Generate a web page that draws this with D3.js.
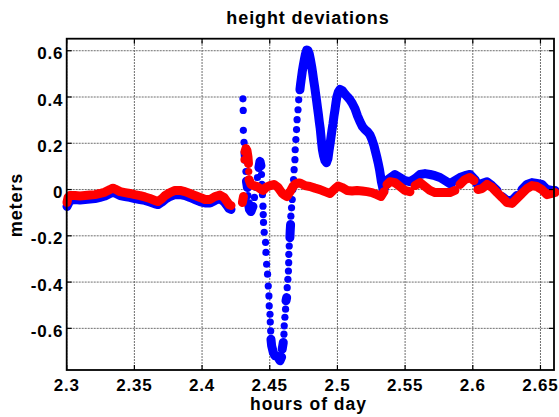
<!DOCTYPE html>
<html lang="en">
<head>
  <meta charset="UTF-8">
  <title>height deviations</title>
  <script src="https://cdn.jsdelivr.net/npm/d3@7"></script>
  <style>
    body { margin: 0; background: #fff; }
    text { font-family: "Liberation Sans", Arial, sans-serif; font-weight: bold; fill: #000; }
  </style>
</head>
<body>
<div id="chart"></div>
<script>
  // tick values
  const xTicks = [2.3, 2.35, 2.4, 2.45, 2.5, 2.55, 2.6, 2.65];
  const yTicks = [-0.6, -0.4, -0.2, 0, 0.2, 0.4, 0.6];

  // blue series: [hours, meters]
  const blueSeries = [
    [2.3002,-0.073],[2.3024,-0.047],[2.3061,-0.043],[2.3098,-0.045],[2.3135,-0.043],[2.3172,-0.041],
    [2.3209,-0.039],[2.3246,-0.034],[2.3283,-0.028],[2.3320,-0.017],[2.3342,-0.013],[2.3357,-0.015],
    [2.3394,-0.026],[2.3431,-0.030],[2.3467,-0.034],[2.3504,-0.039],[2.3541,-0.043],[2.3578,-0.047],
    [2.3615,-0.054],[2.3652,-0.062],[2.3674,-0.065],[2.3704,-0.054],[2.3726,-0.043],[2.3763,-0.030],
    [2.3800,-0.022],[2.3837,-0.022],[2.3874,-0.026],[2.3911,-0.034],[2.3948,-0.043],[2.3985,-0.052],
    [2.4022,-0.058],[2.4059,-0.058],[2.4096,-0.047],[2.4132,-0.039],[2.4162,-0.052],[2.4184,-0.069],
    [2.4199,-0.082],[2.4214,-0.086],
    [2.4302,0.392],[2.4304,0.342],[2.4305,0.256],[2.4310,0.204],[2.4317,0.159],[2.4322,0.129],
    [2.4324,0.078],[2.4328,0.036],[2.4335,0.009],[2.4339,-0.026],[2.4343,-0.060],[2.4350,-0.086],
    [2.4361,-0.095],[2.4376,-0.073],[2.4387,-0.034],[2.4398,0.009],[2.4409,0.052],[2.4420,0.095],
    [2.4428,0.122],[2.4435,0.103],[2.4439,0.065],[2.4442,0.022],[2.4446,-0.022],[2.4450,-0.072],
    [2.4452,-0.108],[2.4454,-0.142],[2.4459,-0.185],[2.4469,-0.228],[2.4472,-0.272],[2.4477,-0.323],
    [2.4484,-0.366],[2.4489,-0.417],[2.4494,-0.460],[2.4496,-0.503],[2.4502,-0.539],[2.4504,-0.573],
    [2.4507,-0.611],[2.4509,-0.647],[2.4514,-0.675],[2.4526,-0.704],[2.4539,-0.719],[2.4555,-0.719],
    [2.4576,-0.740],[2.4588,-0.724],[2.4592,-0.690],[2.4600,-0.661],[2.4605,-0.625],[2.4607,-0.589],
    [2.4612,-0.552],[2.4617,-0.517],[2.4620,-0.481],[2.4625,-0.467],[2.4629,-0.424],[2.4634,-0.388],
    [2.4638,-0.352],[2.4640,-0.316],[2.4641,-0.280],[2.4644,-0.244],[2.4649,-0.208],[2.4651,-0.180],
    [2.4654,-0.151],[2.4656,-0.115],[2.4661,-0.079],[2.4666,-0.043],[2.4671,0.000],[2.4676,0.043],
    [2.4680,0.086],[2.4686,0.129],[2.4688,0.172],[2.4693,0.216],[2.4698,0.259],[2.4702,0.302],
    [2.4709,0.345],[2.4714,0.388],[2.4723,0.431],[2.4728,0.457],[2.4734,0.483],[2.4740,0.509],
    [2.4747,0.534],[2.4755,0.560],[2.4764,0.586],[2.4773,0.603],[2.4782,0.601],[2.4792,0.586],
    [2.4801,0.560],[2.4810,0.531],[2.4817,0.504],[2.4824,0.474],[2.4832,0.444],[2.4839,0.414],
    [2.4846,0.384],[2.4853,0.353],[2.4860,0.323],[2.4866,0.293],[2.4873,0.263],[2.4878,0.233],
    [2.4883,0.203],[2.4889,0.172],[2.4897,0.147],[2.4908,0.125],[2.4919,0.116],[2.4930,0.134],
    [2.4937,0.164],[2.4945,0.194],[2.4952,0.224],[2.4959,0.254],[2.4967,0.284],[2.4974,0.315],
    [2.4982,0.345],[2.4989,0.375],[2.4996,0.401],[2.5007,0.422],[2.5019,0.433],[2.5037,0.427],
    [2.5056,0.412],[2.5074,0.401],[2.5093,0.388],[2.5111,0.371],[2.5130,0.349],[2.5148,0.319],
    [2.5167,0.293],[2.5185,0.272],[2.5204,0.259],[2.5222,0.250],[2.5240,0.237],[2.5255,0.216],
    [2.5270,0.190],[2.5281,0.164],[2.5292,0.138],[2.5302,0.112],[2.5311,0.086],[2.5318,0.060],
    [2.5325,0.034],[2.5333,0.013],[2.5340,-0.009],[2.5351,0.017],[2.5373,0.043],[2.5403,0.056],
    [2.5425,0.065],[2.5462,0.052],[2.5499,0.039],[2.5536,0.034],[2.5573,0.047],[2.5610,0.065],
    [2.5647,0.069],[2.5684,0.065],[2.5721,0.060],[2.5758,0.052],[2.5794,0.039],[2.5831,0.026],
    [2.5868,0.039],[2.5905,0.052],[2.5942,0.060],[2.5979,0.065],[2.6016,0.043],[2.6038,0.017],
    [2.6068,0.026],[2.6105,0.034],[2.6142,0.017],[2.6179,-0.004],[2.6216,-0.030],[2.6253,-0.047],
    [2.6290,-0.047],[2.6326,-0.026],[2.6363,0.000],[2.6400,0.022],[2.6437,0.030],[2.6474,0.026],
    [2.6511,0.022],[2.6548,0.000],[2.6585,-0.004],[2.6607,-0.004]
  ];

  // red series: [hours, meters]
  const redSeries = [
    [2.3002,-0.056],[2.3010,-0.034],[2.3024,-0.026],[2.3061,-0.026],[2.3098,-0.028],[2.3135,-0.026],
    [2.3172,-0.024],[2.3209,-0.022],[2.3246,-0.017],[2.3283,-0.011],[2.3320,0.000],[2.3342,0.006],
    [2.3357,0.002],[2.3394,-0.009],[2.3431,-0.013],[2.3467,-0.017],[2.3504,-0.022],[2.3541,-0.026],
    [2.3578,-0.032],[2.3615,-0.039],[2.3652,-0.047],[2.3674,-0.052],[2.3704,-0.039],[2.3726,-0.026],
    [2.3763,-0.013],[2.3800,-0.004],[2.3837,-0.004],[2.3874,-0.009],[2.3911,-0.017],[2.3948,-0.026],
    [2.3985,-0.034],[2.4022,-0.043],[2.4059,-0.043],[2.4096,-0.030],[2.4132,-0.024],[2.4162,-0.034],
    [2.4184,-0.052],[2.4199,-0.065],[2.4214,-0.069],
    [2.4298,-0.056],[2.4306,-0.030],[2.4310,0.129],[2.4317,0.164],[2.4324,0.177],[2.4332,0.168],
    [2.4339,0.142],[2.4343,0.112],[2.4345,0.078],[2.4347,0.043],[2.4361,0.022],[2.4383,0.017],
    [2.4406,0.013],[2.4428,0.004],[2.4450,-0.004],[2.4472,0.009],[2.4502,0.017],[2.4531,0.022],
    [2.4561,0.009],[2.4590,-0.015],[2.4608,-0.024],[2.4627,-0.030],[2.4650,-0.010],[2.4671,0.013],
    [2.4690,0.024],[2.4709,0.028],
    [2.4723,0.028],[2.4760,0.017],[2.4797,0.013],[2.4834,0.006],[2.4871,0.000],[2.4908,-0.009],
    [2.4945,-0.017],[2.4982,0.004],[2.5004,0.015],[2.5034,0.009],[2.5071,-0.004],[2.5108,-0.006],
    [2.5145,-0.004],[2.5182,-0.006],[2.5219,-0.009],[2.5255,-0.013],[2.5292,-0.022],[2.5321,-0.030],
    [2.5344,-0.009],[2.5366,0.022],[2.5388,0.034],[2.5425,0.030],[2.5462,0.013],[2.5499,-0.004],
    [2.5536,-0.009],[2.5573,0.017],[2.5610,0.030],[2.5647,0.013],[2.5684,-0.004],[2.5721,-0.013],
    [2.5758,-0.013],[2.5794,-0.013],[2.5831,-0.013],[2.5868,-0.004],[2.5905,0.022],[2.5942,0.043],
    [2.5979,0.052],[2.6009,0.039],[2.6038,0.000],[2.6068,0.004],[2.6105,0.022],[2.6142,0.009],
    [2.6179,-0.013],[2.6216,-0.034],[2.6253,-0.056],[2.6290,-0.060],[2.6326,-0.039],[2.6363,-0.017],
    [2.6400,0.004],[2.6437,0.017],[2.6474,0.013],[2.6511,0.000],[2.6548,-0.022],[2.6585,-0.017],
    [2.6607,-0.013]
  ];

  const width = 559, height = 417;
  const margin = { top: 38.7, right: 5, bottom: 47, left: 66.7 };

  const svg = d3.select("#chart").append("svg")
    .attr("width", width)
    .attr("height", height);

  const x = d3.scaleLinear().domain([2.3, 2.66]).range([margin.left, width - margin.right]);
  const y = d3.scaleLinear().domain([-0.78, 0.652]).range([height - margin.bottom, margin.top]);

  const x0 = margin.left, x1 = width - margin.right;
  const y0 = height - margin.bottom, y1 = margin.top;

  // grid
  const grid = svg.append("g").attr("stroke", "#6e6e6e").attr("stroke-width", 1).attr("stroke-dasharray", "2,1");
  xTicks.forEach(t => grid.append("line").attr("x1", x(t)).attr("x2", x(t)).attr("y1", y0).attr("y2", y1));
  yTicks.forEach(t => grid.append("line").attr("y1", y(t)).attr("y2", y(t)).attr("x1", x0).attr("x2", x1));

  // series: thick line where samples are close, dots everywhere
  function drawSeries(data, color) {
    const g = svg.append("g");
    const segs = [];
    let cur = [];
    data.forEach((d, i) => {
      if (i > 0) {
        const p = data[i - 1];
        const dist = Math.hypot(x(d[0]) - x(p[0]), y(d[1]) - y(p[1]));
        if (dist > 7.5) { segs.push(cur); cur = []; }
      }
      cur.push(d);
    });
    segs.push(cur);
    const line = d3.line().x(d => x(d[0])).y(d => y(d[1]));
    segs.filter(s => s.length > 1).forEach(s => {
      g.append("path").attr("d", line(s))
        .attr("fill", "none").attr("stroke", color)
        .attr("stroke-width", 9)
        .attr("stroke-linejoin", "round").attr("stroke-linecap", "round");
    });
    g.selectAll("circle").data(data).join("circle")
      .attr("cx", d => x(d[0])).attr("cy", d => y(d[1]))
      .attr("r", 3.6).attr("fill", color);
  }
  drawSeries(blueSeries, "#0000ff");
  drawSeries(redSeries, "#ff0000");

  // frame and inward ticks
  const axes = svg.append("g").attr("stroke", "#000");
  axes.append("rect").attr("x", x0).attr("y", y1).attr("width", x1 - x0).attr("height", y0 - y1)
    .attr("fill", "none").attr("stroke-width", 1.8);
  xTicks.forEach(t => {
    axes.append("line").attr("x1", x(t)).attr("x2", x(t)).attr("y1", y0).attr("y2", y0 - 5).attr("stroke-width", 1.2);
    axes.append("line").attr("x1", x(t)).attr("x2", x(t)).attr("y1", y1).attr("y2", y1 + 5).attr("stroke-width", 1.2);
  });
  yTicks.forEach(t => {
    axes.append("line").attr("y1", y(t)).attr("y2", y(t)).attr("x1", x0).attr("x2", x0 + 5).attr("stroke-width", 1.2);
    axes.append("line").attr("y1", y(t)).attr("y2", y(t)).attr("x1", x1).attr("x2", x1 - 5).attr("stroke-width", 1.2);
  });

  // tick labels (plain hyphen minus, as in the reference)
  svg.append("g").selectAll("text").data(xTicks).join("text")
    .attr("x", d => x(d)).attr("y", y0 + 21)
    .attr("text-anchor", "middle")
    .style("font-size", "17px").style("letter-spacing", "0.8px")
    .text(d => String(d));
  svg.append("g").selectAll("text").data(yTicks).join("text")
    .attr("x", x0 - 3.5).attr("y", d => y(d)).attr("dy", "0.5em")
    .attr("text-anchor", "end")
    .style("font-size", "17px").style("letter-spacing", "0.8px")
    .text(d => String(d));

  // titles
  svg.append("text").attr("x", 308).attr("y", 24).attr("text-anchor", "middle")
    .style("font-size", "18px").style("letter-spacing", "0.9px")
    .text("height deviations");
  svg.append("text").attr("x", 308.5).attr("y", 410).attr("text-anchor", "middle")
    .style("font-size", "17.5px").style("letter-spacing", "1px")
    .text("hours of day");
  svg.append("text").attr("transform", "translate(22,205) rotate(-90)").attr("text-anchor", "middle")
    .style("font-size", "18px").style("letter-spacing", "0.9px")
    .text("meters");
</script>
</body>
</html>
